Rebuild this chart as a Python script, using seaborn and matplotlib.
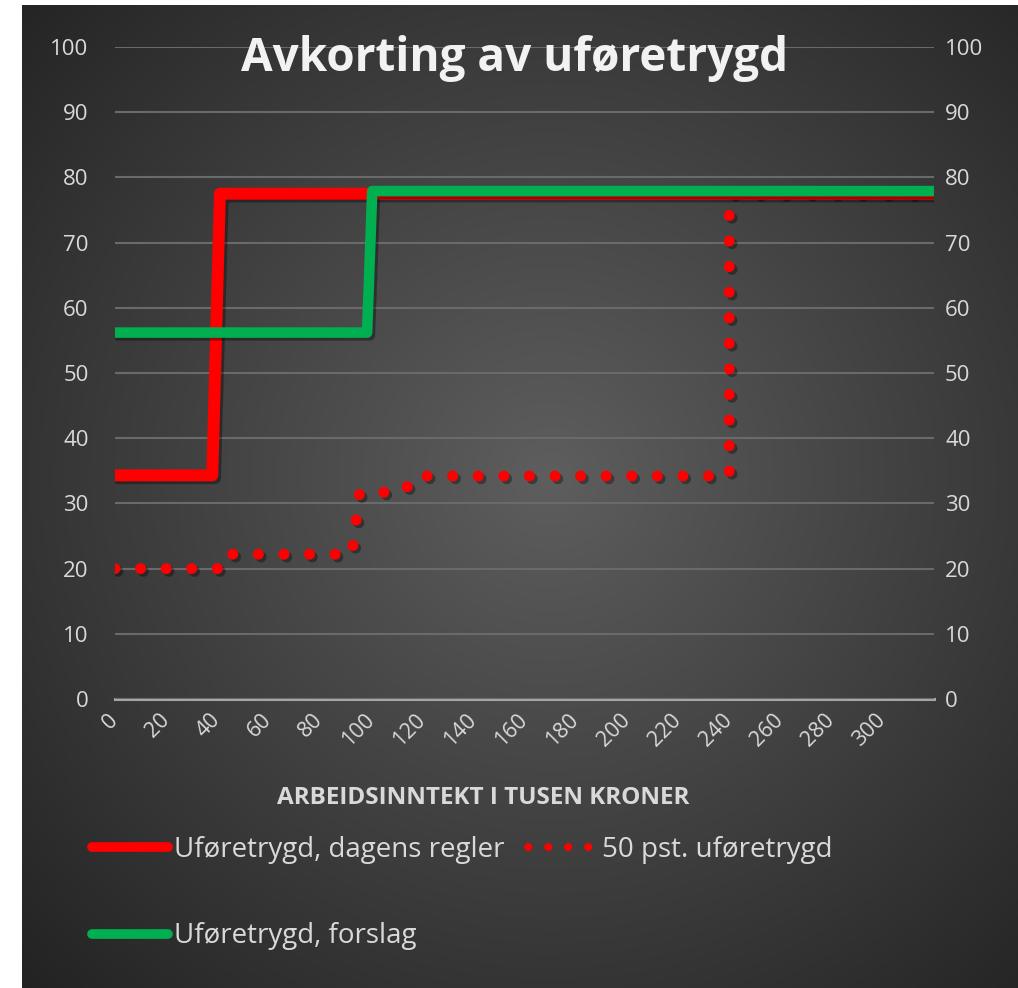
import numpy as np
import pandas as pd
import matplotlib.pyplot as plt
import matplotlib.patheffects as pe
from matplotlib.lines import Line2D
import seaborn as sns

# data (arbeidsinntekt i tusen kroner -> uføretrygd)
inntekt_dagens = [0, 38, 41, 320]
trygd_dagens = [34.3, 34.3, 77.5, 77.5]
inntekt_forslag = [0, 98.5, 100.5, 320]
trygd_forslag = [56.2, 56.2, 77.9, 77.9]
inntekt_50 = [0, 40, 42, 92.5, 95.5, 113, 117, 240, 240, 320]
trygd_50 = [20, 20, 22.2, 22.2, 31.5, 31.9, 34.2, 34.2, 77.5, 77.5]

x_ticks = list(range(0, 301, 20))
y_ticks = list(range(0, 101, 10))

navn_dagens = 'Uføretrygd, dagens regler'
navn_forslag = 'Uføretrygd, forslag'
navn_50 = '50 pst. uføretrygd'

RED = '#ff0000'
GREEN = '#00b050'
TXT = '#d9d9d9'

sns.set_style('dark')
plt.rcParams['font.family'] = ['Open Sans', 'DejaVu Sans']

W, H = 1018, 988
fig = plt.figure(figsize=(W / 100, H / 100), dpi=100)
fig.patch.set_facecolor('white')

# radial gradient background
bg = fig.add_axes([22 / W, 0, 1 - 22 / W, 1 - 5 / H])
gy, gx = np.mgrid[0:1:400j, 0:1:400j]
r = np.sqrt(((gx - 0.53) / 0.75) ** 2 + ((gy - 0.48) / 0.75) ** 2)
r = np.clip(r, 0, 1)
c0 = np.array([0x5e, 0x5e, 0x5e]) / 255
c1 = np.array([0x22, 0x22, 0x22]) / 255
img = c0[None, None, :] * (1 - r[..., None]) + c1[None, None, :] * r[..., None]
bg.imshow(img, aspect='auto', extent=[0, 1, 0, 1], origin='upper')
bg.set_axis_off()

ax = fig.add_axes([115 / W, 1 - 699 / H, (934 - 115) / W, (699 - 47) / H])
ax.patch.set_alpha(0)

shadow = [pe.SimpleLineShadow(offset=(2, -2), shadow_color='black', alpha=0.35), pe.Normal()]

df_50 = pd.DataFrame({'inntekt': inntekt_50, 'trygd': trygd_50})
df_dagens = pd.DataFrame({'inntekt': inntekt_dagens, 'trygd': trygd_dagens})
df_forslag = pd.DataFrame({'inntekt': inntekt_forslag, 'trygd': trygd_forslag})

sns.lineplot(data=df_50, x='inntekt', y='trygd', ax=ax, color=RED, lw=7.9,
             sort=False, estimator=None)
dot_line = ax.lines[-1]
dot_line.set_linestyle((0, (0.001, 2.33)))
dot_line.set_dash_capstyle('round')
dot_line.set_path_effects(shadow)

sns.lineplot(data=df_dagens, x='inntekt', y='trygd', ax=ax, color=RED, lw=8.6,
             sort=False, estimator=None)
ax.lines[-1].set_path_effects(shadow)

sns.lineplot(data=df_forslag, x='inntekt', y='trygd', ax=ax, color=GREEN, lw=7.6,
             sort=False, estimator=None)
ax.lines[-1].set_path_effects(shadow)

ax.set_xlim(0, 320)
ax.set_ylim(0, 100)
ax.set_xticks(x_ticks)
ax.set_xticklabels([str(v) for v in x_ticks], rotation=45, ha='right', va='center',
                   rotation_mode='anchor', fontsize=15.5, color=TXT)
ax.set_yticks(y_ticks)
ax.set_yticklabels([str(v) for v in y_ticks], fontsize=16, color=TXT)
ax.tick_params(axis='both', length=0)
ax.tick_params(axis='y', pad=19)
ax.tick_params(axis='x', pad=13)
ax.grid(axis='y', color='#6a6a6a', lw=1.5)
ax.grid(axis='x', visible=False)
for s in ['top', 'left', 'right']:
    ax.spines[s].set_visible(False)
ax.spines['bottom'].set_color('#a6a6a6')
ax.spines['bottom'].set_linewidth(2.2)
ax.spines['bottom'].set_zorder(0.5)
ax.set_xlabel('')
ax.set_ylabel('')

ax2 = ax.twinx()
ax2.set_ylim(0, 100)
ax2.set_yticks(y_ticks)
ax2.set_yticklabels([str(v) for v in y_ticks], fontsize=16, color=TXT)
ax2.tick_params(axis='y', length=0, pad=8)
ax2.grid(False)
ax2.patch.set_alpha(0)
for s in ax2.spines.values():
    s.set_visible(False)

fig.text(515 / W, 1 - 58 / H, 'Avkorting av uføretrygd', ha='center', va='center',
         fontsize=33, fontweight='bold', color='#f2f2f2')
fig.text(483 / W, 1 - 798 / H, 'ARBEIDSINNTEKT I TUSEN KRONER', ha='center',
         va='center', fontsize=17.5, fontweight='bold', color=TXT)

h_dagens = Line2D([], [], color=RED, lw=7, solid_capstyle='round')
h_forslag = Line2D([], [], color=GREEN, lw=7, solid_capstyle='round')
h_50 = Line2D([], [], color=RED, lw=5.8, linestyle=(1.45, (0.001, 2.48)),
              dash_capstyle='round')
fig.legend(handles=[h_dagens, h_forslag, h_50], labels=[navn_dagens, navn_forslag, navn_50],
           ncol=2, loc='upper left', bbox_to_anchor=(92 / W, 1 - 836 / H),
           frameon=False, fontsize=20, labelcolor=TXT, handlelength=2.73,
           handletextpad=0.22, columnspacing=0.55, labelspacing=2.1,
           borderpad=0, borderaxespad=0)

fig.savefig('out.png', dpi=100)
